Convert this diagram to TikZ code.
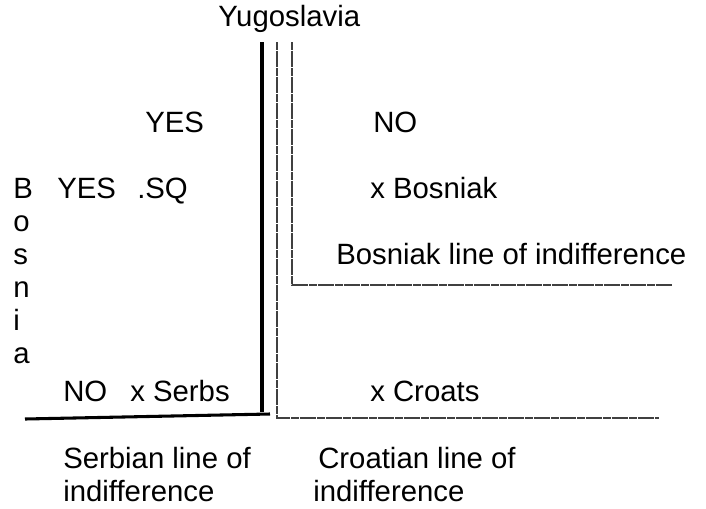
\documentclass[tikz,border=0pt]{standalone}
\usepackage{fontspec}
\setmainfont{Liberation Sans}
\begin{document}
\begin{tikzpicture}[x=0.75pt,y=-0.75pt,
  lbl/.style={anchor=base west,inner sep=0pt,font=\fontsize{22}{26}\selectfont},
  serbline/.style={line width=3pt,black},
  thinline/.style={line width=1.5pt,black!75,dash pattern=on 6pt off 0.5pt}]
\useasboundingbox (0,0) rectangle (706,508);
% corner points of the three indifference lines
\coordinate (Stop) at (262,42);
\coordinate (Sbot) at (262,412);
\coordinate (Sl) at (25,419);
\coordinate (Sr) at (270,414);
\coordinate (Ctop) at (277,42);
\coordinate (Ccorner) at (277,418);
\coordinate (Cend) at (659,418);
\coordinate (Btop) at (292,42);
\coordinate (Bcorner) at (292,285);
\coordinate (Bend) at (673,285);
% Serbian line (heavy)
\draw[serbline,line cap=butt] (Stop) -- (Sbot);
\draw[line width=2.3pt] (Sl) -- (Sr);
% Croatian and Bosniak lines
\draw[thinline] (Ctop) -- (Ccorner) -- (Cend);
\draw[thinline] (Btop) -- (Bcorner) -- (Bend);
% labels
\node[lbl] (yug) at (218,26) {Yugoslavia};
\node[lbl] (yes1) at (145,132) {YES};
\node[lbl] (no1) at (373,132) {NO};
\node[lbl] (b1) at (13,198) {B};
\node[lbl] (b2) at (13,231) {o};
\node[lbl] (b3) at (13,264) {s};
\node[lbl] (b4) at (13,297) {n};
\node[lbl] (b5) at (13,330) {i};
\node[lbl] (b6) at (13,363) {a};
\node[lbl] (yes2) at (57,198) {YES};
\node[lbl] (sq) at (137,198) {.SQ};
\node[lbl] (xbos) at (370,198) {x Bosniak};
\node[lbl] (boslab) at (336,264) {Bosniak line of indifference};
\node[lbl] (no2) at (63,401) {NO};
\node[lbl] (xser) at (130,401) {x Serbs};
\node[lbl] (xcro) at (370,401) {x Croats};
\node[lbl] (serlab1) at (63,468) {Serbian line of};
\node[lbl] (serlab2) at (63,501) {indifference};
\node[lbl] (crolab1) at (318,468) {Croatian line of};
\node[lbl] (crolab2) at (313,501) {indifference};
\end{tikzpicture}
\end{document}
